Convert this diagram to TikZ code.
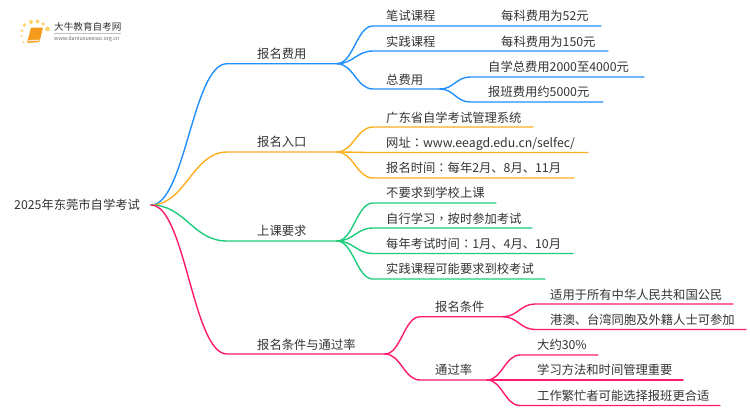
\documentclass[tikz,border=0pt]{standalone}
\usepackage{fontspec}
\setmainfont{Noto Sans CJK SC}
\newfontfamily\tcfont{Noto Sans CJK TC}
\usetikzlibrary{calc}
\definecolor{cblue}{HTML}{2190FF}
\definecolor{corange}{HTML}{FFAE1F}
\definecolor{cgreen}{HTML}{1FCB7C}
\definecolor{cpink}{HTML}{FF1A70}
\definecolor{ctext}{HTML}{333333}
\definecolor{cbook}{HTML}{F59A1B}
\definecolor{cdot}{HTML}{FFD36B}
\tikzset{
  lbl/.style={anchor=west,inner sep=0pt,text=ctext,text height=12.3pt,text depth=2.5pt,font=\fontsize{12.3}{14}\selectfont},
  wire/.style={line width=1.4pt,line cap=round},
  logodot/.style={fill=cdot,draw=none}
}
\newcommand{\conn}[4]{\draw[wire,#1] (#2) .. controls ({$(#2)!.45!(#3)$} |- #2) and ({$(#2)!.55!(#3)$} |- #3) .. (#3) -- (#4);}
\newcommand{\pt}[3]{\coordinate (#1) at (#2,#3);}
\begin{document}
\begin{tikzpicture}[x=1pt,y=-1pt]
\useasboundingbox (0,0) rectangle (750,410);
% logo
\foreach \a/\b/\r in {21.5/36/1.2,22/30.5/1.5,24.5/25/1.8,31/22/2,37.5/21.5/2,43/24/1.9,47.5/29/2.4,23.5/42/1}{\fill[logodot] (\a,\b) circle (\r);}
\fill[cbook,rounded corners=1pt] (31,27.5) -- (43,27.5) -- (39.5,42) -- (27,43) -- cycle;
\fill[white!80!cbook] (28.5,40.2) -- (39.4,39.6) -- (39.2,40.8) -- (28.2,41.4) -- cycle;
\node[inner sep=0pt,anchor=west,text=ctext,font=\fontsize{9.6}{11}\selectfont] (logot) at (54,27) {大牛教育自考网};
\node[inner sep=0pt,anchor=west,text=black!60,font=\fontsize{5.4}{7}\selectfont] (logou) at (54,39) {www.daniuxuexiao.org.cn};
\draw[black!25,line width=.5pt] (54,33.3) -- (121,33.3);
% texts
\node[lbl] (root) at (14,205) {2025年东莞市自学考试};
\coordinate (r) at (151,205);
\node[lbl] (n1) at (257,54) {报名费用};
\node[lbl] (n2) at (257,142) {报名入口};
\node[lbl] (n3) at (257,231) {上课要求};
\node[lbl] (n4) at (257,345) {报名条件与通过率};
\node[lbl] (a1) at (386,16) {笔试课程};
\node[lbl] (a1x) at (501,16) {每科费用为52元};
\node[lbl] (a2) at (386,41.5) {实践课程};
\node[lbl] (a2x) at (501,41.5) {每科费用为150元};
\node[lbl] (a3) at (386,80) {总费用};
\node[lbl] (a4) at (488,66.5) {自学总费用2000至4000元};
\node[lbl] (a5) at (488,92) {报班费用约5000元};
\node[lbl] (b1) at (386,117.5) {广东省自学考试管理系统};
\node[lbl] (b2) at (386,142.5) {网址{\tcfont ：}www.eeagd.edu.cn/selfec/};
\node[lbl] (b3) at (386,168) {报名时间{\tcfont ：}每年2月、8月、11月};
\node[lbl] (c1) at (386,193) {不要求到学校上课};
\node[lbl] (c2) at (386,218.5) {自行学习{\tcfont ，}按时参加考试};
\node[lbl] (c3) at (386,243.5) {每年考试时间{\tcfont ：}1月、4月、10月};
\node[lbl] (c4) at (386,269) {实践课程可能要求到校考试};
\node[lbl] (d1) at (435,307) {报名条件};
\node[lbl] (d2) at (435,370) {通过率};
\node[lbl] (e1) at (550,295) {适用于所有中华人民共和国公民};
\node[lbl] (e2) at (550,320) {港澳、台湾同胞及外籍人士可参加};
\node[lbl] (e3) at (537,345) {大约30\%};
\node[lbl] (e4) at (537,370) {学习方法和时间管理重要};
\node[lbl] (e5) at (537,396) {工作繁忙者可能选择报班更合适};
% junctions
\pt{m1s}{227}{63.7}\pt{f1}{337}{63.7}
\pt{m2s}{227}{152}\pt{f2}{337}{152}
\pt{m3s}{227}{241}\pt{f3}{337}{241}
\pt{m4s}{227}{354}\pt{f4}{385}{354}
\pt{a1s}{373}{26}\pt{a1e}{601}{26}
\pt{a2s}{373}{51}\pt{a2e}{608}{51}
\pt{a3s}{373}{89}\pt{f5}{440}{89}
\pt{a4s}{470}{77}\pt{a4e}{644}{77}
\pt{a5s}{470}{102}\pt{a5e}{603}{102}
\pt{b1s}{373}{127}\pt{b1e}{533}{127}
\pt{b2s}{373}{152.5}\pt{b2e}{588}{152.5}
\pt{b3s}{373}{178}\pt{b3e}{574}{178}
\pt{c1s}{373}{203}\pt{c1e}{496}{203}
\pt{c2s}{373}{228}\pt{c2e}{532}{228}
\pt{c3s}{373}{253.5}\pt{c3e}{573}{253.5}
\pt{c4s}{373}{279}\pt{c4e}{545}{279}
\pt{d1s}{420}{316.7}\pt{f6}{503}{316.7}
\pt{d2s}{420}{380}\pt{f7}{487}{380}
\pt{e1s}{535}{304}\pt{e1e}{733}{304}
\pt{e2s}{535}{329.5}\pt{e2e}{746}{329.5}
\pt{e3s}{520}{355}\pt{e3e}{598}{355}
\pt{e4s}{520}{380}\pt{e4e}{683}{380}
\pt{e5s}{520}{405.5}\pt{e5e}{720}{405.5}
% connectors
\conn{cblue}{r}{m1s}{f1}
\conn{corange}{r}{m2s}{f2}
\conn{cgreen}{r}{m3s}{f3}
\conn{cpink}{r}{m4s}{f4}
\conn{cblue}{f1}{a1s}{a1e}
\conn{cblue}{f1}{a2s}{a2e}
\conn{cblue}{f1}{a3s}{f5}
\conn{cblue}{f5}{a4s}{a4e}
\conn{cblue}{f5}{a5s}{a5e}
\conn{corange}{f2}{b1s}{b1e}
\conn{corange}{f2}{b2s}{b2e}
\conn{corange}{f2}{b3s}{b3e}
\conn{cgreen}{f3}{c1s}{c1e}
\conn{cgreen}{f3}{c2s}{c2e}
\conn{cgreen}{f3}{c3s}{c3e}
\conn{cgreen}{f3}{c4s}{c4e}
\conn{cpink}{f4}{d1s}{f6}
\conn{cpink}{f4}{d2s}{f7}
\conn{cpink}{f6}{e1s}{e1e}
\conn{cpink}{f6}{e2s}{e2e}
\conn{cpink}{f7}{e3s}{e3e}
\conn{cpink}{f7}{e4s}{e4e}
\conn{cpink}{f7}{e5s}{e5e}
\end{tikzpicture}
\end{document}
